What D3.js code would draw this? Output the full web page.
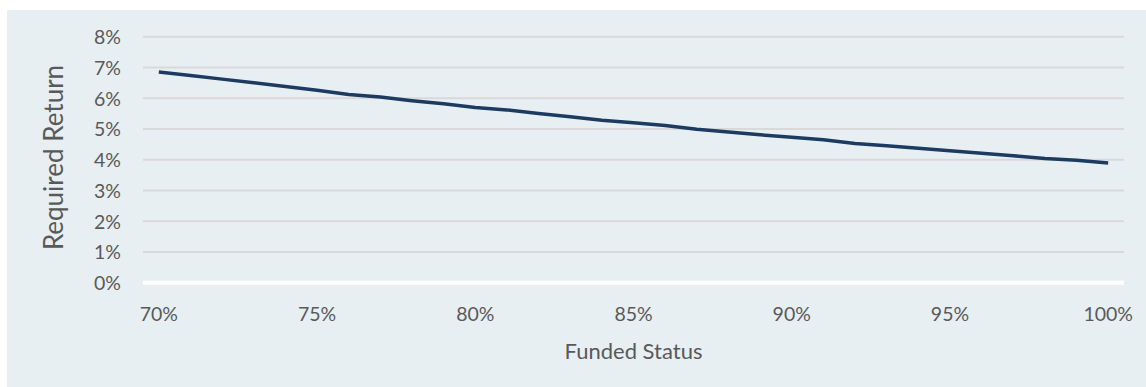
<!DOCTYPE html>
<html>
<head>
<meta charset="utf-8">
<script src="https://cdn.jsdelivr.net/npm/d3@7"></script>
<style>
  html, body { margin: 0; padding: 0; background: #ffffff; }
  svg { display: block; }
  text { font-family: Lato, "Open Sans", sans-serif; fill: #595959; }
</style>
</head>
<body>
<svg id="chart" width="1146" height="387"></svg>
<script>
// Funded status (x categories), in percent
const fundedStatus = [70, 71, 72, 73, 74, 75, 76, 77, 78, 79, 80, 81, 82, 83, 84, 85,
  86, 87, 88, 89, 90, 91, 92, 93, 94, 95, 96, 97, 98, 99, 100];
// Required return for each funded status, in percent
const requiredReturn = [6.85, 6.74, 6.62, 6.50, 6.38, 6.26, 6.12, 6.04, 5.92, 5.82, 5.70,
  5.62, 5.50, 5.40, 5.28, 5.20, 5.11, 4.99, 4.90, 4.81, 4.73, 4.65, 4.53, 4.45, 4.37,
  4.29, 4.21, 4.13, 4.04, 3.98, 3.89];
// Axis ticks
const yTicks = [0, 1, 2, 3, 4, 5, 6, 7, 8];
const xTickLabels = [70, 75, 80, 85, 90, 95, 100];

const svg = d3.select("#chart");

// Chart area background
svg.append("rect")
  .attr("x", 7).attr("y", 10)
  .attr("width", 1139).attr("height", 377)
  .attr("fill", "#e7eff3");

const plot = { left: 143, right: 1124, top: 36.7, bottom: 282.7 };

const x = d3.scaleBand()
  .domain(fundedStatus)
  .range([plot.left, plot.right])
  .padding(0);

const y = d3.scaleLinear()
  .domain([0, 8])
  .range([plot.bottom, plot.top]);

// Horizontal gridlines
svg.append("g")
  .selectAll("line")
  .data(yTicks.filter(d => d !== 0))
  .join("line")
  .attr("x1", plot.left).attr("x2", plot.right)
  .attr("y1", d => y(d)).attr("y2", d => y(d))
  .attr("stroke", "#d9d9d9")
  .attr("stroke-width", 2);

// Category axis line at 0%
svg.append("line")
  .attr("x1", plot.left).attr("x2", plot.right)
  .attr("y1", y(0)).attr("y2", y(0))
  .attr("stroke", "#ffffff")
  .attr("stroke-width", 4);

// Y tick labels
const yAxis = d3.axisLeft(y)
  .tickValues(yTicks)
  .tickFormat(d => d + "%")
  .tickSize(0)
  .tickPadding(0);
const gy = svg.append("g")
  .attr("transform", `translate(121,0)`)
  .call(yAxis);
gy.select(".domain").remove();
gy.selectAll("text")
  .attr("font-size", 19.5)
  .attr("font-family", "Lato, 'Open Sans', sans-serif")
  .attr("fill", "#595959")
  .attr("dy", "0.36em");

// X tick labels
const xAxis = d3.axisBottom(x)
  .tickValues(xTickLabels)
  .tickFormat(d => d + "%")
  .tickSize(0)
  .tickPadding(0);
const gx = svg.append("g")
  .attr("transform", `translate(0,${plot.bottom + 24})`)
  .call(xAxis);
gx.select(".domain").remove();
gx.selectAll("text")
  .attr("font-size", 19.5)
  .attr("font-family", "Lato, 'Open Sans', sans-serif")
  .attr("fill", "#595959")
  .attr("dy", "0.71em");

// Data line
const line = d3.line()
  .x((d, i) => x(fundedStatus[i]) + x.bandwidth() / 2)
  .y(d => y(d));

svg.append("path")
  .datum(requiredReturn)
  .attr("d", line)
  .attr("fill", "none")
  .attr("stroke", "#1d3b60")
  .attr("stroke-width", 3.5)
  .attr("stroke-linejoin", "round");

// Axis titles
svg.append("text")
  .attr("x", (plot.left + plot.right) / 2)
  .attr("y", 359)
  .attr("text-anchor", "middle")
  .attr("font-size", 22)
  .text("Funded Status");

svg.append("text")
  .attr("transform", `translate(63,157.5) rotate(-90)`)
  .attr("text-anchor", "middle")
  .attr("font-size", 26)
  .text("Required Return");
</script>
</body>
</html>
